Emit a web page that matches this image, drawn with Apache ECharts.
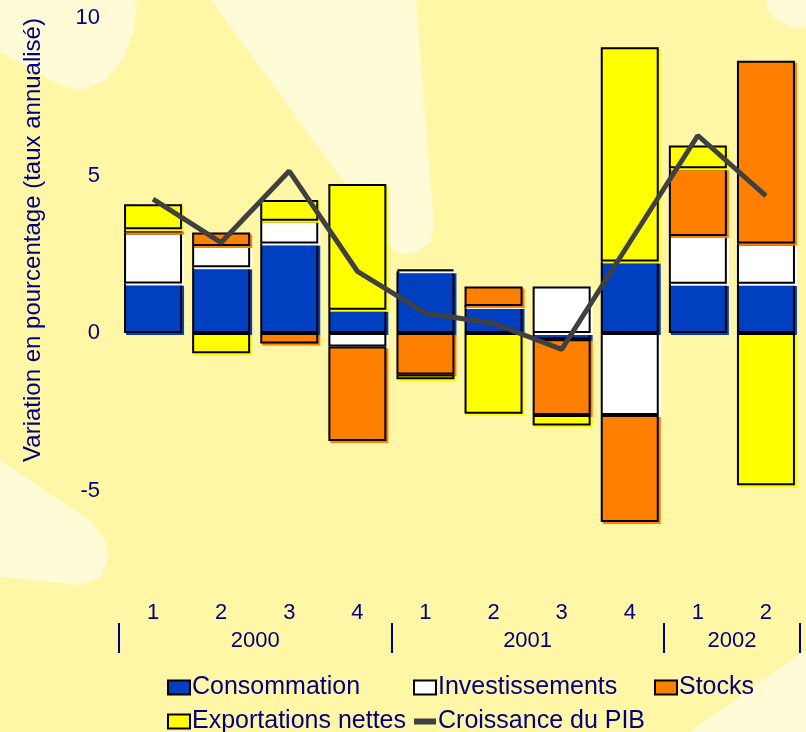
<!DOCTYPE html>
<html>
<head>
<meta charset="utf-8">
<script src="https://cdn.jsdelivr.net/npm/echarts@6/dist/echarts.min.js"></script>
<style>
  html, body { margin: 0; padding: 0; }
  #chart { width: 806px; height: 732px; }
</style>
</head>
<body>
<div id="chart"></div>
<script>
// trimestres et années
const quarters = ['1', '2', '3', '4', '1', '2', '3', '4', '1', '2']
const years = ['2000', '2001', '2002']
const yearCenters = [2, 6, 9]
const yearBounds = [0, 4, 8, 10]
const yTicks = [-5, 0, 5, 10]

// contributions (points de %)
const consommation = [1.57, 2.09, 2.84, 0.74, 1.96, 0.86, -0.2, 2.27, 1.56, 1.56]
const investissements = [1.62, 0.67, 0.72, -0.43, 0.06, 0, 1.48, -2.6, 1.52, 1.28]
const stocks = [0.1, 0.43, -0.33, -3.0, -1.32, 0.62, -2.4, -3.4, 2.15, 5.8]
const exportations = [0.8, -0.64, 0.66, 3.99, -0.15, -2.56, -0.34, 6.8, 0.72, -4.83]
const pib = [4.25, 2.87, 5.14, 1.96, 0.63, 0.31, -0.52, 2.88, 6.27, 4.35]

const navy = '#000080'
const font = 'Liberation Sans, Arial, sans-serif'

const barSeries = (name, data, color) => ({
  name,
  type: 'bar',
  stack: 'total',
  barWidth: 58,
  data,
  itemStyle: {
    color,
    borderColor: '#000',
    borderWidth: 2,
    shadowColor: color,
    shadowOffsetX: 2,
    shadowOffsetY: 2,
    shadowBlur: 0
  },
  emphasis: { disabled: true }
})

const legendAt = (name, left, top, extra) => Object.assign({
  data: [name],
  left,
  top,
  padding: 0,
  icon: 'rect',
  itemWidth: 22,
  itemHeight: 14,
  selectedMode: false,
  textStyle: { color: navy, fontSize: 25, fontFamily: font, padding: [0, 0, 0, -3] }
}, extra || {})

const light = '#FFFBD6'
const bgShapes = [
  [[0, 0], [137, 0], [134, 30], [124, 58], [105, 80], [82, 90], [60, 85], [0, 52]],
  [[211, 0], [416, 0], [434, 226], [430, 242], [418, 252], [404, 255], [394, 250], [389, 244]],
  [[766, 0], [806, 0], [806, 28], [790, 27], [776, 20], [768, 10]],
  [[0, 460], [92, 522], [105, 540], [108, 560], [100, 578], [80, 585], [0, 577]],
  [[806, 650], [806, 732], [689, 732]]
]

const chart = echarts.init(document.getElementById('chart'))

chart.setOption({
  animation: false,
  backgroundColor: '#FFF6A6',
  textStyle: { fontFamily: font },
  graphic: {
    elements: bgShapes.map(pts => ({
      type: 'polygon',
      z: -100,
      silent: true,
      shape: { points: pts },
      style: { fill: light }
    })).concat([{
      type: 'text',
      x: 33,
      y: 240,
      rotation: Math.PI / 2,
      z: 100,
      style: {
        text: 'Variation en pourcentage (taux annualisé)',
        fill: navy,
        font: '24px ' + font,
        textAlign: 'center',
        textVerticalAlign: 'middle'
      }
    }])
  },
  grid: { left: 119, right: 6, top: 18, bottom: 147 },
  legend: [
    legendAt('Consommation', 167, 675),
    legendAt('Investissements', 413, 675),
    legendAt('Stocks', 654, 675),
    legendAt('Exportations nettes', 167, 709),
    legendAt({ name: 'Croissance du PIB', icon: 'rect', itemStyle: { color: '#404040', borderWidth: 0 } }, 414, 709, { itemHeight: 6 })
  ],
  xAxis: [
    {
      type: 'category',
      data: quarters,
      axisLine: { show: false },
      axisTick: { show: false },
      axisLabel: { color: navy, fontSize: 22, margin: 17, fontFamily: font }
    },
    {
      type: 'value',
      min: 0,
      max: 10,
      position: 'bottom',
      offset: 38,
      splitLine: { show: false },
      axisLine: { show: false },
      axisTick: {
        show: true,
        customValues: yearBounds,
        length: 30,
        lineStyle: { color: navy, width: 2 }
      },
      axisLabel: {
        customValues: yearCenters,
        formatter: v => years[yearCenters.indexOf(v)],
        color: navy,
        fontSize: 22,
        margin: 7,
        fontFamily: font
      }
    }
  ],
  yAxis: {
    type: 'value',
    min: -8,
    max: 10,
    axisLine: { show: false },
    axisTick: { show: false },
    splitLine: { show: false },
    axisLabel: {
      customValues: yTicks,
      color: navy,
      fontSize: 22,
      margin: 19,
      fontFamily: font
    }
  },
  series: [
    barSeries('Consommation', consommation, '#0040C0'),
    barSeries('Investissements', investissements, '#FFFFFF'),
    barSeries('Stocks', stocks, '#FF8000'),
    barSeries('Exportations nettes', exportations, '#FFFF00'),
    {
      name: 'Croissance du PIB',
      type: 'line',
      data: pib,
      z: 5,
      symbol: 'none',
      lineStyle: { color: '#404040', width: 5 },
      itemStyle: { color: '#404040' },
      emphasis: { disabled: true }
    }
  ]
})
</script>
</body>
</html>
